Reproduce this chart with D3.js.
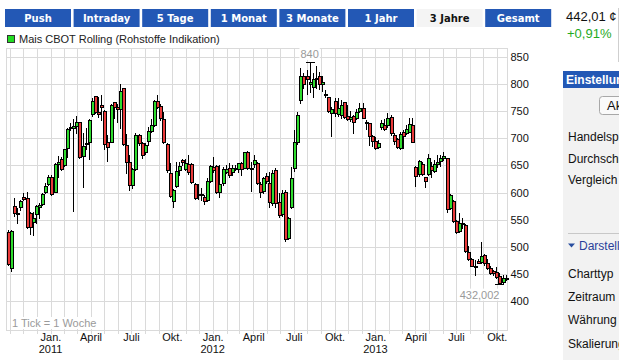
<!DOCTYPE html>
<html lang="de">
<head>
<meta charset="UTF-8">
<title>Mais CBOT Rolling</title>
<script src="https://d3js.org/d3.v7.min.js"></script>
<style>
    body { margin: 0; background: #fff; }
    svg { display: block; font-family: "Liberation Sans", Arial, sans-serif; }
</style>
</head>
<body>
<script>
    // chart data (weekly candles)
    var tabs = ['Push', 'Intraday', '5 Tage', '1 Monat', '3 Monate', '1 Jahr', '3 Jahre', 'Gesamt'];
    var activeTab = '3 Jahre';
    var seriesName = 'Mais CBOT Rolling (Rohstoffe Indikation)';
    var firstWeek = '2010-09-27';

    var open = [527.9, 460.2, 575.2, 562.9, 574.0, 591.2, 589.4, 561.7, 545.1, 559.8,
        572.7, 578.3, 600.4, 615.2, 628.1, 601.6, 652.1, 661.3, 650.8, 681.6,
        718.4, 719.7, 722.7, 729.5, 667.4, 690.2, 692.6, 744.3, 777.5, 748.6,
        761.5, 750.4, 692.6, 693.8, 766.4, 757.2, 753.5, 792.2, 687.7, 655.7,
        613.9, 642.8, 706.2, 690.8, 674.2, 695.1, 713.5, 724.6, 768.9, 759.6,
        735.0, 688.9, 635.4, 584.4, 612.7, 641.6, 660.0, 643.4, 652.1, 652.1,
        615.2, 596.7, 595.5, 592.4, 586.3, 621.3, 647.7, 649.0, 600.4, 617.0,
        637.3, 644.7, 638.5, 642.8, 642.8, 655.1, 645.9, 675.4, 645.9, 652.1,
        653.9, 615.2, 602.9, 630.5, 617.0, 581.4, 641.6, 583.2, 559.8, 601.6,
        515.6, 572.7, 644.7, 693.8, 770.7, 815.6, 815.6, 799.6, 795.3, 811.9,
        815.0, 799.6, 781.8, 775.6, 746.1, 768.9, 744.3, 743.0, 766.4, 741.8,
        735.7, 741.2, 736.9, 750.4, 755.3, 730.7, 727.7, 704.3, 695.1, 684.6,
        721.5, 725.0, 724.6, 740.0, 706.2, 698.2, 681.6, 711.1, 709.2, 712.3,
        724.6, 646.5, 633.6, 652.1, 628.1, 633.6, 649.0, 639.7, 652.1, 658.2,
        663.1, 663.1, 570.9, 584.4, 547.5, 529.1, 543.2, 540.2, 491.0, 477.4,
        465.1, 474.4, 471.3, 484.8, 470.7, 461.5, 455.3, 454.1, 446.1, 435.6,
        441.0];
    var high = [530.9, 530.3, 589.4, 570.9, 586.3, 598.6, 601.6, 563.5, 564.7, 577.0,
        580.1, 598.6, 617.0, 632.4, 632.4, 653.9, 668.0, 666.2, 680.5, 718.4,
        727.7, 735.0, 741.2, 730.7, 709.2, 718.4, 735.0, 773.8, 778.7, 776.9,
        779.9, 752.3, 706.2, 762.7, 767.6, 762.7, 799.6, 793.5, 708.0, 669.3,
        644.7, 709.2, 708.0, 692.6, 690.8, 721.5, 735.7, 770.7, 779.9, 762.7,
        749.2, 690.8, 653.9, 606.0, 657.0, 657.0, 661.9, 661.9, 669.3, 653.9,
        617.0, 615.2, 607.8, 595.5, 626.2, 650.8, 666.2, 650.8, 650.8, 647.7,
        650.8, 653.9, 650.8, 650.8, 655.1, 657.0, 675.4, 676.6, 657.0, 669.3,
        655.7, 620.1, 629.3, 635.4, 638.5, 641.6, 644.7, 598.6, 604.7, 604.7,
        555.5, 647.7, 715.4, 749.2, 829.1, 819.9, 826.0, 840.0, 819.9, 833.0,
        823.0, 815.6, 789.1, 776.9, 758.4, 773.8, 775.0, 770.7, 767.6, 761.5,
        750.4, 743.0, 754.1, 764.6, 764.6, 733.8, 728.9, 706.2, 703.1, 696.9,
        733.8, 735.0, 746.1, 743.0, 709.2, 700.0, 711.1, 715.4, 724.6, 736.9,
        736.9, 649.6, 660.0, 655.7, 629.3, 670.5, 657.0, 660.0, 669.3, 669.3,
        675.4, 664.4, 596.7, 586.3, 549.4, 562.9, 552.4, 541.4, 501.4, 479.9,
        475.6, 477.4, 509.4, 486.1, 477.4, 464.5, 457.2, 463.3, 451.0, 447.9,
        447.9];
    var low = [466.4, 455.9, 556.8, 544.5, 567.8, 586.3, 534.0, 523.6, 521.7, 544.5,
        553.7, 577.0, 598.6, 613.9, 595.0, 600.4, 629.3, 641.6, 649.0, 666.2,
        715.4, 566.6, 710.4, 664.0, 609.6, 680.3, 661.3, 741.8, 746.1, 738.7,
        733.8, 680.3, 658.8, 692.6, 736.9, 730.7, 718.4, 687.7, 636.7, 604.7,
        609.0, 641.6, 687.7, 663.1, 670.5, 687.7, 711.1, 723.4, 755.3, 733.8,
        690.8, 638.5, 592.4, 574.0, 610.9, 632.4, 650.8, 641.6, 633.6, 617.0,
        587.5, 588.1, 586.3, 578.3, 585.0, 620.1, 638.5, 599.2, 592.4, 613.9,
        635.4, 629.3, 632.4, 641.6, 638.5, 632.4, 644.7, 643.4, 602.9, 647.7,
        615.8, 592.4, 598.6, 617.0, 574.0, 577.0, 574.0, 555.5, 557.4, 511.3,
        514.3, 570.9, 640.4, 688.9, 764.6, 792.2, 781.2, 784.8, 776.9, 792.2,
        791.0, 787.3, 776.9, 748.0, 704.3, 741.2, 741.2, 736.9, 736.9, 733.8,
        732.0, 710.4, 735.0, 749.2, 736.9, 717.2, 687.7, 686.5, 680.3, 681.6,
        717.2, 715.0, 721.5, 706.2, 688.9, 682.8, 680.3, 682.8, 707.4, 711.1,
        692.6, 612.7, 631.1, 632.4, 610.9, 632.4, 628.1, 638.5, 647.7, 649.6,
        660.0, 564.7, 569.7, 546.3, 524.8, 527.9, 534.0, 491.0, 475.6, 464.5,
        447.9, 469.5, 469.5, 466.4, 459.0, 449.2, 447.9, 443.0, 432.002, 433.8,
        438.7];
    var close = [467.6, 529.1, 561.7, 559.8, 584.4, 587.5, 535.9, 537.1, 553.7, 575.2,
        577.0, 596.7, 612.7, 628.1, 596.7, 652.1, 655.7, 643.4, 679.7, 717.2,
        720.9, 722.7, 729.5, 665.0, 685.9, 692.0, 733.8, 768.9, 749.2, 744.3,
        757.2, 688.9, 683.4, 761.5, 757.2, 753.5, 787.3, 688.9, 655.7, 613.9,
        642.8, 706.2, 690.8, 669.3, 687.7, 713.5, 724.6, 768.9, 758.4, 736.9,
        692.6, 641.6, 593.6, 604.7, 639.7, 649.0, 655.7, 653.9, 637.3, 620.1,
        589.4, 595.5, 596.7, 584.4, 621.3, 649.0, 641.6, 600.4, 615.2, 642.8,
        643.4, 632.4, 644.7, 645.9, 653.9, 642.8, 674.2, 644.7, 644.7, 660.0,
        618.2, 601.6, 626.2, 621.3, 583.2, 635.4, 580.1, 558.6, 599.8, 513.7,
        552.5, 627.5, 693.8, 743.0, 815.6, 799.6, 809.4, 803.3, 809.4, 808.8,
        799.6, 804.5, 780.5, 751.0, 753.5, 746.1, 755.3, 761.5, 738.7, 735.7,
        740.0, 730.7, 749.2, 755.3, 738.1, 730.0, 704.3, 695.1, 682.8, 692.0,
        727.7, 718.0, 736.9, 710.4, 695.1, 684.6, 708.0, 704.9, 717.2, 725.8,
        693.8, 630.5, 658.8, 633.6, 621.3, 663.1, 641.6, 652.7, 657.0, 663.1,
        667.4, 569.1, 595.5, 547.5, 526.6, 543.2, 544.5, 492.8, 476.8, 465.1,
        463.9, 470.7, 483.0, 469.5, 461.5, 451.0, 451.0, 444.9, 432.6, 443.0,
        442.01];

    var yTicks = [400, 450, 500, 550, 600, 650, 700, 750, 800, 850];
    var monthLabels = ['Jan.', '', '', 'April', '', '', 'Juli', '', '', 'Okt.', '', ''];
    var changeText = '+0,91%';
    var panelTop = ['Handelsplatz', 'Durchschnitt', 'Vergleich'];
    var panelBottom = ['Charttyp', 'Zeitraum', 'Währung', 'Skalierung'];

    var svgWidth = 619, svgHeight = 360;
    var plotLeft = 6.5, plotRight = 507.5, plotTop = 48.5, plotBottom = 330.5;
    var gridColor = '#dadada';
    var blue = '#2358b5';

    var de = d3.formatLocale({ decimal: ',', thousands: '.', grouping: [3], currency: ['', ' €'] });
    var fmtExtreme = de.format('.3~f');
    var fmtPrice = de.format('.2f');

    var parseDate = d3.timeParse('%Y-%m-%d');
    var start = parseDate(firstWeek);
    var dates = d3.timeMonday.range(start, d3.timeWeek.offset(start, open.length));

    var candles = dates.map(function(d, i) {
        return { date: d, open: open[i], high: high[i], low: low[i], close: close[i] };
    });

    var xScale = d3.scaleTime()
        .domain([parseDate('2010-09-24'), parseDate('2013-10-24')])
        .range([6.5, 507]);

    var yScale = d3.scaleLinear()
        .domain([400, 850])
        .range([301, 57]);

    var svg = d3.select('body')
        .append('svg')
        .attr('width', svgWidth)
        .attr('height', svgHeight);

    // tab bar
    var tab = svg.selectAll('g.tab')
        .data(tabs)
        .enter()
        .append('g')
        .attr('class', 'tab')
        .attr('transform', function(d, i) { return 'translate(' + (5 + i * 68.6) + ',9)'; });

    tab.append('rect')
        .attr('width', 66)
        .attr('height', 18)
        .attr('fill', function(d) { return d == activeTab ? '#f4f4f4' : blue; });

    tab.append('text')
        .text(function(d) { return d; })
        .attr('x', 33)
        .attr('y', 13)
        .attr('text-anchor', 'middle')
        .attr('font-family', '"DejaVu Sans", Verdana, sans-serif')
        .attr('font-weight', 'bold')
        .attr('font-size', '10px')
        .attr('fill', function(d) { return d == activeTab ? '#111' : '#fff'; });

    // price box top right
    svg.append('text')
        .text(fmtPrice(close[close.length - 1]) + ' ¢')
        .attr('x', 566)
        .attr('y', 21)
        .attr('font-size', '13px')
        .attr('fill', '#111');

    svg.append('text')
        .text(changeText)
        .attr('x', 567)
        .attr('y', 38)
        .attr('font-size', '13px')
        .attr('fill', '#1faa1f');

    svg.append('line')
        .attr('x1', 618.5).attr('x2', 618.5)
        .attr('y1', 8).attr('y2', 62)
        .attr('stroke', '#cfcfcf');

    // legend
    svg.append('rect')
        .attr('x', 7.5).attr('y', 35.5)
        .attr('width', 7).attr('height', 7)
        .attr('fill', '#22dd22')
        .attr('stroke', '#333');

    svg.append('text')
        .text(seriesName)
        .attr('x', 19)
        .attr('y', 43)
        .attr('font-size', '11px')
        .attr('fill', '#222');

    // grid
    var grid = svg.append('g').attr('shape-rendering', 'crispEdges');

    grid.selectAll('line.h')
        .data(yTicks)
        .enter()
        .append('line')
        .attr('class', 'h')
        .attr('x1', plotLeft)
        .attr('x2', plotRight)
        .attr('y1', function(d) { return Math.round(yScale(d)) + 0.5; })
        .attr('y2', function(d) { return Math.round(yScale(d)) + 0.5; })
        .attr('stroke', gridColor);

    var months = d3.timeMonth.range(xScale.domain()[0], xScale.domain()[1]);

    grid.selectAll('line.v')
        .data(months)
        .enter()
        .append('line')
        .attr('class', 'v')
        .attr('x1', function(d) { return Math.round(xScale(d)) + 0.5; })
        .attr('x2', function(d) { return Math.round(xScale(d)) + 0.5; })
        .attr('y1', plotTop)
        .attr('y2', plotBottom + 3)
        .attr('stroke', gridColor);

    grid.append('rect')
        .attr('x', plotLeft)
        .attr('y', plotTop)
        .attr('width', plotRight - plotLeft)
        .attr('height', plotBottom - plotTop)
        .attr('fill', 'none')
        .attr('stroke', gridColor);

    // axes
    var yAxis = svg.append('g')
        .attr('transform', 'translate(' + plotRight + ',0)')
        .call(d3.axisRight(yScale).tickValues(yTicks).tickSize(0).tickPadding(3));

    var quarters = months.filter(function(d) {
        return monthLabels[d.getMonth()] != '' && xScale(d) > 20;
    });

    var xAxis = svg.append('g')
        .attr('transform', 'translate(0,' + plotBottom + ')')
        .call(d3.axisBottom(xScale)
            .tickValues(quarters)
            .tickFormat(function(d) { return monthLabels[d.getMonth()]; })
            .tickSize(0)
            .tickPadding(3));

    [yAxis, xAxis].forEach(function(axis) {
        axis.select('.domain').remove();
        axis.selectAll('text')
            .attr('font-family', '"Liberation Sans", Arial, sans-serif')
            .attr('font-size', '11px')
            .attr('fill', '#111');
    });

    svg.selectAll('text.year')
        .data(quarters.filter(function(d) { return d.getMonth() == 0; }))
        .enter()
        .append('text')
        .attr('class', 'year')
        .text(function(d) { return d.getFullYear(); })
        .attr('x', function(d) { return xScale(d); })
        .attr('y', 353)
        .attr('text-anchor', 'middle')
        .attr('font-size', '11px')
        .attr('fill', '#111');

    // labels with white background
    function boxedLabel(text, x, y, anchor) {
        var g = svg.append('g');
        var bg = g.append('rect').attr('fill', '#fff');
        var t = g.append('text')
            .text(text)
            .attr('x', x)
            .attr('y', y)
            .attr('text-anchor', anchor)
            .attr('font-size', '11px')
            .attr('fill', '#9a9a9a');
        var b = t.node().getBBox();
        bg.attr('x', b.x - 1).attr('y', b.y).attr('width', b.width + 2).attr('height', b.height);
        return g;
    }

    boxedLabel('1 Tick = 1 Woche', 12, 327, 'start');

    // candles
    var hiIndex = d3.maxIndex(high);
    var loIndex = d3.minIndex(low);
    var hiX = xScale(dates[hiIndex]);
    var loX = xScale(dates[loIndex]);

    boxedLabel(fmtExtreme(high[hiIndex]), hiX, yScale(high[hiIndex]) - 4.5, 'middle');
    boxedLabel(fmtExtreme(low[loIndex]), loX, yScale(low[loIndex]) + 15, 'end');

    var px = function(d) { return Math.round(xScale(d.date)) + 0.5; };

    var candle = svg.append('g').attr('shape-rendering', 'crispEdges')
        .selectAll('g')
        .data(candles)
        .enter()
        .append('g');

    candle.append('line')
        .attr('x1', px)
        .attr('x2', px)
        .attr('y1', function(d) { return Math.round(yScale(d.high)); })
        .attr('y2', function(d) { return Math.round(yScale(d.low)) + 1; })
        .attr('stroke', '#000');

    candle.append('rect')
        .attr('x', function(d) { return px(d) - 1.5; })
        .attr('width', 3)
        .attr('y', function(d) { return Math.round(yScale(Math.max(d.open, d.close))) + 0.5; })
        .attr('height', function(d) {
            return Math.max(1, Math.round(yScale(Math.min(d.open, d.close))) - Math.round(yScale(Math.max(d.open, d.close))));
        })
        .attr('fill', function(d) { return d.close >= d.open ? '#2fdc2f' : '#e93a3a'; })
        .attr('stroke', '#000');

    // high / low markers
    svg.append('g').attr('shape-rendering', 'crispEdges')
        .selectAll('line')
        .data([[hiX, high[hiIndex]], [loX, low[loIndex]]])
        .enter()
        .append('line')
        .attr('x1', function(d) { return Math.round(d[0]) - 4; })
        .attr('x2', function(d) { return Math.round(d[0]) + 5; })
        .attr('y1', function(d) { return Math.round(yScale(d[1])) + 0.5; })
        .attr('y2', function(d) { return Math.round(yScale(d[1])) + 0.5; })
        .attr('stroke', '#000');

    // settings panel (right, cut off)
    svg.append('rect')
        .attr('x', 563).attr('y', 88)
        .attr('width', 56).attr('height', 272)
        .attr('fill', '#f2f2f2');

    svg.append('rect')
        .attr('x', 563).attr('y', 71)
        .attr('width', 56).attr('height', 17)
        .attr('fill', blue);

    svg.append('text')
        .text('Einstellungen')
        .attr('x', 566)
        .attr('y', 84)
        .attr('font-weight', 'bold')
        .attr('font-size', '12px')
        .attr('fill', '#fff');

    svg.append('rect')
        .attr('x', 599.5).attr('y', 96.5)
        .attr('width', 40).attr('height', 18)
        .attr('rx', 3)
        .attr('fill', '#fafafa')
        .attr('stroke', '#a8a8a8');

    svg.append('text')
        .text('Aktualisieren')
        .attr('x', 607)
        .attr('y', 110)
        .attr('font-size', '13px')
        .attr('fill', '#111');

    svg.selectAll('text.p1')
        .data(panelTop)
        .enter()
        .append('text')
        .attr('class', 'p1')
        .text(function(d) { return d; })
        .attr('x', 568)
        .attr('y', function(d, i) { return 141 + i * 21.5; })
        .attr('font-size', '12px')
        .attr('fill', '#111');

    svg.append('line')
        .attr('x1', 568).attr('x2', 619)
        .attr('y1', 233.5).attr('y2', 233.5)
        .attr('stroke', '#c8c8c8');

    svg.append('path')
        .attr('d', 'M568,243.5 L575,243.5 L571.5,247.5 Z')
        .attr('fill', '#2a4fa0');

    svg.append('text')
        .text('Darstellung')
        .attr('x', 579)
        .attr('y', 250)
        .attr('font-size', '12px')
        .attr('fill', '#2a3f9a');

    svg.selectAll('text.p2')
        .data(panelBottom)
        .enter()
        .append('text')
        .attr('class', 'p2')
        .text(function(d) { return d; })
        .attr('x', 568)
        .attr('y', function(d, i) { return 277.5 + i * 23.4; })
        .attr('font-size', '12px')
        .attr('fill', '#111');
</script>
</body>
</html>
